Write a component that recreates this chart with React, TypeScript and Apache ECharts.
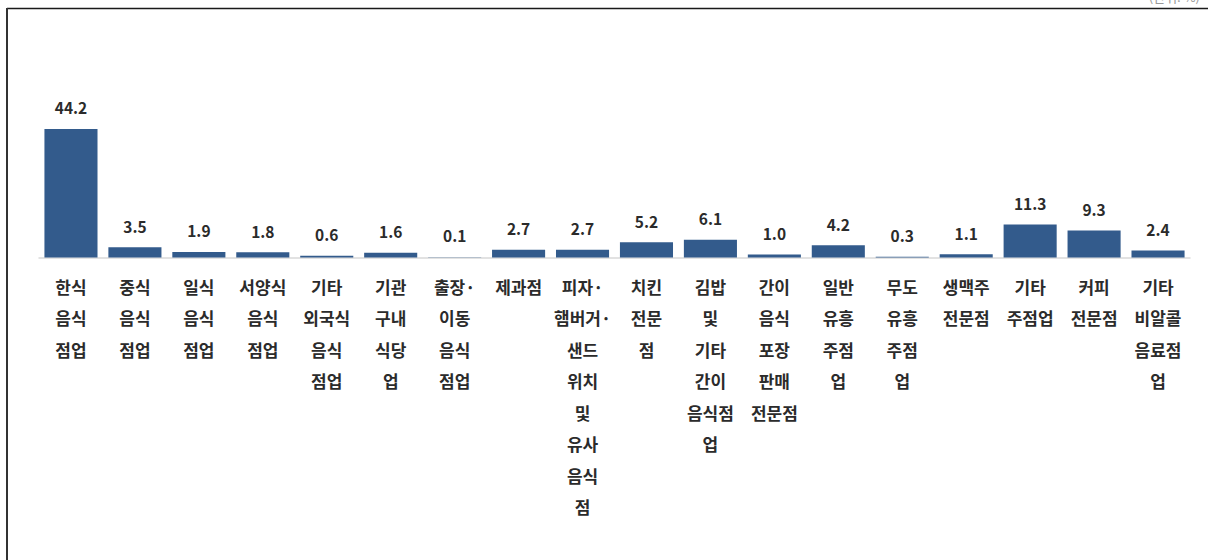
import React, { useEffect, useRef } from "react";
import * as echarts from "echarts";

const categories: string[] = [
  "한식\n음식\n점업",
  "중식\n음식\n점업",
  "일식\n음식\n점업",
  "서양식\n음식\n점업",
  "기타\n외국식\n음식\n점업",
  "기관\n구내\n식당\n업",
  "출장·\n이동\n음식\n점업",
  "제과점",
  "피자·\n햄버거·\n샌드\n위치\n및\n유사\n음식\n점",
  "치킨\n전문\n점",
  "김밥\n및\n기타\n간이\n음식점\n업",
  "간이\n음식\n포장\n판매\n전문점",
  "일반\n유흥\n주점\n업",
  "무도\n유흥\n주점\n업",
  "생맥주\n전문점",
  "기타\n주점업",
  "커피\n전문점",
  "기타\n비알콜\n음료점\n업",
];

const values: number[] = [
  44.2, 3.5, 1.9, 1.8, 0.6, 1.6, 0.1, 2.7, 2.7, 5.2, 6.1, 1.0, 4.2, 0.3, 1.1,
  11.3, 9.3, 2.4,
];

const unitLabel = "(단위: %)";

const FONT = "'Noto Sans CJK KR', 'Noto Sans', sans-serif";

export default function App() {
  const ref = useRef<HTMLDivElement>(null);

  useEffect(() => {
    if (!ref.current) return;
    const chart = echarts.init(ref.current, null, { renderer: "svg" });
    chart.setOption({
      animation: false,
      backgroundColor: "#ffffff",
      textStyle: { fontFamily: FONT },
      grid: { left: 39, right: 18, top: 112, bottom: 302.5, containLabel: false },
      xAxis: {
        type: "category",
        data: categories,
        axisLine: { show: true, lineStyle: { color: "#d9d9d9", width: 1.5 } },
        axisTick: { show: false },
        axisLabel: {
          interval: 0,
          color: "#2b2b2b",
          fontSize: 17,
          fontWeight: "bold",
          fontFamily: FONT,
          lineHeight: 31.5,
          margin: 13,
          align: "center",
        },
      },
      yAxis: {
        type: "value",
        min: 0,
        max: 50,
        show: false,
        splitLine: { show: false },
      },
      series: [
        {
          type: "bar",
          data: values,
          barCategoryGap: "17%",
          itemStyle: { color: "#335b8c" },
          label: {
            show: true,
            position: "top",
            distance: 14,
            color: "#2b2b2b",
            fontSize: 15.5,
            fontWeight: "bold",
            fontFamily: FONT,
            formatter: (p: any) => Number(p.value).toFixed(1),
          },
        },
      ],
      graphic: [
        {
          type: "line",
          shape: { x1: 7, y1: 8.5, x2: 1208, y2: 8.5 },
          style: { stroke: "#1a1a1a", lineWidth: 1.5 },
          silent: true,
        },
        {
          type: "line",
          shape: { x1: 7, y1: 8, x2: 7, y2: 560 },
          style: { stroke: "#333333", lineWidth: 2 },
          silent: true,
        },
        {
          type: "text",
          right: 8,
          top: -10,
          style: {
            text: unitLabel,
            fill: "#999999",
            fontSize: 13,
            fontFamily: FONT,
          },
          silent: true,
        },
      ],
    });
    return () => chart.dispose();
  }, []);

  return (
    <div
      ref={ref}
      style={{
        position: "fixed",
        left: 0,
        top: 0,
        width: 1208,
        height: 560,
        background: "#ffffff",
      }}
    />
  );
}
